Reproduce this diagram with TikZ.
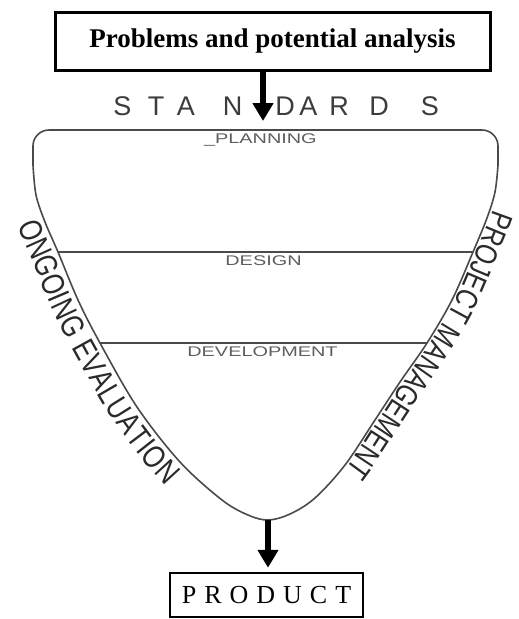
\documentclass[tikz,border=0pt]{standalone}
\usepackage{fontspec}
\setmainfont{Liberation Serif}
\newfontfamily\arialf{Liberation Sans}
\newfontfamily\condf[FakeStretch=0.8]{Liberation Sans}
\usetikzlibrary{arrows.meta,decorations.text}
\definecolor{outl}{HTML}{4A4A4A}
\definecolor{stagec}{HTML}{5E5E5E}
\definecolor{stdc}{HTML}{3C3C3C}
\definecolor{txtc}{HTML}{2A2A2A}
\newcommand{\lsp}{\hspace{8pt}}
\begin{document}
\begin{tikzpicture}[x=1pt,y=-1pt,
  boxa/.style={draw=black, line width=3pt, minimum width=435pt, minimum height=58pt, inner sep=0pt,
    font=\bfseries\fontsize{27}{27}\selectfont},
  boxb/.style={draw=black, line width=2.5pt, minimum width=193pt, minimum height=44pt, inner sep=0pt,
    font=\fontsize{26}{26}\selectfont},
  bigarrow/.style={line width=6pt, -{Triangle[width=20pt,length=18pt]}},
  vessel/.style={draw=outl, line width=1.6pt},
  divider/.style={draw=outl, line width=1.3pt},
  stage/.style={font=\arialf\fontsize{14}{14}\selectfont, text=stagec, xscale=1.42, inner sep=0pt, anchor=base},
  stdl/.style={font=\arialf\fontsize{27}{27}\selectfont, text=stdc, inner sep=0pt, anchor=base},
  curvetext/.style={decorate, decoration={text along path, text color=txtc, #1}},
]
\useasboundingbox[fill=white] (0,0) rectangle (519,619);

% top box and arrow
\node[boxa] (prob) at (272.5,41) {Problems and potential analysis};
\coordinate (tip1) at (263,121);

% STANDARDS
\node[stdl] (s1) at (122.5,115) {S};
\node[stdl] (s2) at (156,115) {T};
\node[stdl] (s3) at (186,115) {A};
\node[stdl] (s4) at (232.5,115) {N};
\node[stdl] (s5) at (285,115) {D};
\node[stdl] (s6) at (308.5,115) {A};
\node[stdl] (s7) at (339,115) {R};
\node[stdl] (s8) at (379,115) {D};
\node[stdl] (s9) at (430,115) {S};

\draw[bigarrow] (prob.south -| tip1) -- (tip1);

% vessel
\coordinate (L1) at (58,252);
\coordinate (R1) at (473,252);
\coordinate (L2) at (100,343);
\coordinate (R2) at (427,343);
\coordinate (vb) at (268,520);
\draw[vessel, rounded corners=16pt] (33,165) -- (33,130) -- (498,130) -- (498,165);
\draw[vessel] plot[smooth, tension=0.55] coordinates {(33,165) (36,195) (45,222) (L1) (78,300) (L2) (137,407) (180,462) (222,500) (248,515) (vb) (290,514) (315,498) (345,465) (375,420) (400,382) (R2) (452,300) (R1) (487,218) (495,192) (498,165)};
\draw[divider] (L1) -- (R1);
\draw[divider] (L2) -- (R2);

% stage labels
\node[stage, anchor=base east] (plan) at (317,143) {\_PLANNING};
\node[stage] (des) at (263.5,265) {DESIGN};
\node[stage] (dev) at (262.5,356) {DEVELOPMENT};

% curved side texts
\path[curvetext={text align={left indent=21pt}, raise=-27pt,
   text={|\condf\fontsize{32}{32}\selectfont|ONGOING EVALUATION}}]
  plot[smooth, tension=0.55] coordinates {(36,195) (45,222) (L1) (78,300) (L2) (137,407) (180,462) (222,500) (248,515) (vb)};
\path[curvetext={text align={left indent=44pt}, raise=3pt,
   text={|\condf\fontsize{31}{31}\selectfont|PROJECT MANAGEMENT}}]
  plot[smooth, tension=0.55] coordinates {(498,165) (495,192) (487,218) (R1) (452,300) (R2) (400,382) (375,420) (345,465) (315,498) (290,514) (vb)};

% product
\node[boxb] (prod) at (266.5,595) {P\lsp R\lsp O\lsp D\lsp U\lsp C\lsp T};
\draw[bigarrow, shorten >=4pt] (vb) -- (prod.north -| vb);
\end{tikzpicture}
\end{document}
